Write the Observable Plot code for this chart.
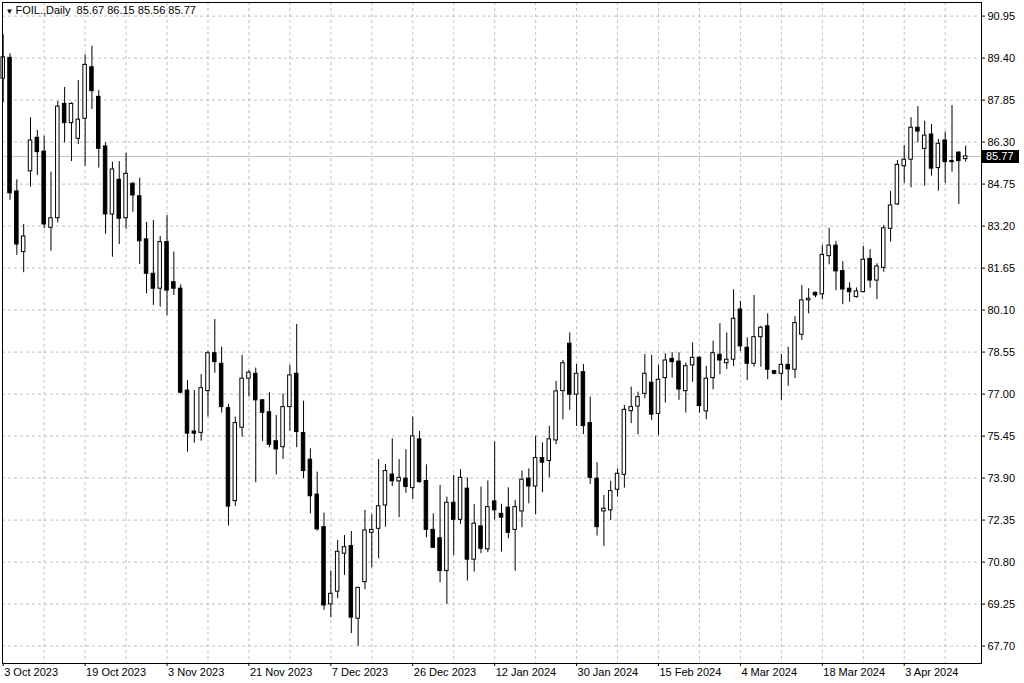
<!DOCTYPE html>
<html><head><meta charset="utf-8">
<script src="https://cdn.jsdelivr.net/npm/d3@7"></script>
<script src="https://cdn.jsdelivr.net/npm/@observablehq/plot@0.6"></script>
<style>html,body{margin:0;padding:0;background:#fff;overflow:hidden;} #chart svg{display:block;}</style>
</head><body><div id="chart"></div>
<script>
const symbolName = "FOIL.,Daily";
const opens = [88.64,89.41,84.48,82.24,85.22,86.46,85.95,83.14,83.49,87.71,87.00,86.42,87.16,89.06,87.97,86.14,83.63,84.91,83.49,84.76,
84.30,82.71,81.44,80.89,82.61,81.13,80.89,77.13,75.62,75.57,77.11,78.51,78.12,76.48,73.05,75.76,77.57,77.75,76.77,76.33,
75.26,75.04,76.52,77.75,75.56,74.58,73.29,72.09,69.24,69.71,71.11,71.39,68.71,70.06,71.88,72.03,72.89,74.03,73.78,73.88,
73.53,75.33,73.79,71.99,71.68,70.47,72.99,72.36,73.51,70.89,72.12,71.27,73.04,72.58,72.81,71.99,72.67,73.88,73.59,74.64,
74.53,75.29,77.11,78.86,76.98,77.81,75.93,73.88,72.67,72.71,73.47,74.02,76.37,76.54,77.01,77.42,76.27,77.59,78.30,78.20,
77.11,78.06,78.34,76.36,77.59,78.45,78.14,78.27,80.12,78.71,78.12,79.10,79.50,77.85,77.75,78.08,77.90,79.19,80.46,80.74,
80.68,82.09,82.48,81.54,80.89,80.58,80.76,81.99,81.19,81.66,83.10,84.00,85.41,85.65,86.83,86.05,86.58,85.34,86.36,85.60,
85.91,85.67];
const highs = [90.26,89.56,84.91,83.26,87.20,86.73,86.52,85.19,87.80,88.32,87.75,88.57,89.52,89.84,88.20,86.27,85.56,85.58,85.89,84.82,
84.97,83.34,83.41,82.82,83.59,82.24,81.03,77.50,77.13,77.72,78.58,79.75,78.73,76.62,76.15,78.43,77.87,77.96,76.80,77.05,
76.21,77.01,78.06,79.57,76.74,74.98,74.12,72.61,70.47,71.60,71.78,71.93,69.87,72.71,72.55,74.58,74.40,75.35,74.58,74.95,
76.15,75.62,74.39,72.58,73.63,73.20,74.00,74.21,73.91,72.92,73.57,73.79,75.23,72.93,73.54,73.08,74.16,74.24,75.44,75.20,
75.81,77.47,78.24,79.26,78.09,78.09,76.89,74.47,73.26,73.78,74.24,76.58,77.26,77.07,78.46,78.43,78.06,78.49,78.53,78.53,
78.14,78.89,78.39,78.02,78.95,79.60,79.26,80.85,80.42,79.08,80.64,79.50,79.96,77.87,78.46,78.73,79.86,81.01,80.89,80.76,
82.48,83.12,82.64,81.89,81.11,80.92,82.45,82.33,81.81,83.22,84.48,85.62,86.17,87.20,87.61,87.07,86.95,86.40,86.67,87.65,
85.95,86.15];
const lows = [87.75,84.15,82.12,81.48,84.64,85.07,83.10,82.27,83.32,86.27,85.58,86.21,85.41,87.50,85.34,82.90,82.05,82.52,83.08,83.71,
81.78,80.70,80.27,80.21,79.90,80.64,77.00,74.86,75.19,75.26,76.15,77.77,76.30,72.13,72.85,75.41,76.89,73.73,75.25,75.02,
74.02,74.59,75.63,75.02,73.88,72.58,71.94,69.02,68.75,69.45,70.31,68.16,67.70,69.78,70.59,70.92,72.09,73.59,72.44,73.34,
73.11,73.71,71.70,71.30,70.04,69.24,71.05,72.19,70.10,70.43,71.11,71.15,72.36,71.17,71.66,70.46,72.07,72.95,72.55,73.36,
73.91,75.13,76.05,76.40,75.81,75.51,73.67,71.76,71.38,72.34,73.20,73.53,75.91,75.50,76.83,76.03,75.47,76.67,77.59,76.77,
76.30,77.44,76.30,76.05,77.16,77.72,77.91,78.02,78.57,77.50,77.99,77.99,77.53,77.71,76.77,77.29,77.57,78.98,79.96,80.56,
80.48,81.77,80.82,80.30,80.39,80.54,80.74,80.91,80.49,81.50,82.61,83.96,84.78,84.61,86.27,84.67,85.04,84.49,84.78,85.19,
84.00,85.56];
const closes = [89.43,84.41,82.52,82.82,86.36,85.93,83.26,83.49,87.61,87.00,87.71,87.13,89.15,88.18,86.05,83.63,85.29,83.47,85.13,84.33,
82.64,81.44,80.89,82.61,80.82,80.89,77.05,75.54,75.54,77.22,78.51,78.18,76.52,72.85,75.93,77.57,77.79,76.77,76.31,75.13,
74.96,76.52,77.69,75.60,74.16,73.23,72.01,69.20,69.63,71.18,71.35,68.75,69.85,71.97,71.99,72.86,74.16,73.78,73.91,73.57,
75.44,73.75,71.99,71.33,70.47,72.99,72.36,73.91,70.89,72.22,71.29,72.83,72.71,72.44,71.88,72.83,73.84,73.59,74.64,74.47,
75.33,77.10,78.14,76.98,77.75,75.82,73.91,72.09,72.77,73.42,74.06,76.42,76.52,76.89,77.75,76.24,77.53,78.24,78.18,77.17,
78.03,78.34,76.56,77.57,78.51,78.24,78.27,79.78,78.76,78.12,79.10,79.45,77.90,77.75,78.08,77.91,79.62,80.46,80.52,80.64,
82.14,82.48,81.53,80.86,80.76,80.79,81.96,81.19,81.71,83.12,83.96,85.46,85.65,86.83,86.69,86.54,85.32,86.24,85.56,85.56,
85.60,85.77];
const xLabels = ["3 Oct 2023","19 Oct 2023","3 Nov 2023","21 Nov 2023","7 Dec 2023","26 Dec 2023","12 Jan 2024","30 Jan 2024","15 Feb 2024","4 Mar 2024","18 Mar 2024","3 Apr 2024"];
const yTicks = [67.70,69.25,70.80,72.35,73.90,75.45,77.00,78.55,80.10,81.65,83.20,84.75,86.30,87.85,89.40,90.95];
const barsPerLabel = 12;
const barsPerGrid = 6;

const candles = opens.map((o, i) => ({i, open: o, high: highs[i], low: lows[i], close: closes[i]}));
const last = candles[candles.length - 1];
const labelIdx = xLabels.map((_, k) => k * barsPerLabel);
const gridIdx = d3.range(barsPerGrid, candles.length, barsPerGrid);
const W = 1024, H = 683, mL = 2, mR = 43, mT = 2, mB = 20;
const FONT = "'Liberation Sans', Arial, sans-serif";
const headline = symbolName + "\u00a0\u00a0" + [last.open, last.high, last.low, last.close].map(v => v.toFixed(2)).join(" ");

const plot = Plot.plot({
  width: W, height: H,
  marginLeft: mL, marginRight: mR, marginTop: mT, marginBottom: mB,
  style: {background: "#fff", color: "#000", fontFamily: FONT, fontSize: "11px", overflow: "visible"},
  x: {domain: [-0.1025, 143.32], axis: "bottom", ticks: labelIdx, tickSize: 3, tickFormat: () => "", label: null},
  y: {domain: [67.058, 91.452], axis: "right", ticks: yTicks, tickSize: 3, tickFormat: () => "", label: null},
  marks: [
    Plot.ruleY(yTicks, {y: d => d, stroke: "#c0c0c0", strokeDasharray: "3,3"}),
    Plot.ruleX(gridIdx, {x: d => d, stroke: "#c0c0c0", strokeDasharray: "3,3"}),
    Plot.ruleY([last.close], {y: d => d, stroke: "#c0c0c0"}),
    Plot.ruleX(candles, {x: "i", y1: "low", y2: "high", stroke: "#000"}),
    Plot.rect(candles, {
      x1: d => d.i - 0.256, x2: d => d.i + 0.256, y1: "open", y2: "close",
      fill: d => d.close > d.open ? "#ffffff" : "#000000", stroke: "#000"
    }),
    Plot.frame({stroke: "#000"}),
    Plot.text(yTicks, {y: d => d, text: d => d.toFixed(2), frameAnchor: "right", textAnchor: "start", dx: 6, fill: "#000"}),
    Plot.text(labelIdx, {x: d => d, text: (d, k) => xLabels[k], frameAnchor: "bottom", textAnchor: "start", lineAnchor: "top", dx: 1, dy: 5, fill: "#000"}),
    Plot.text([headline], {frameAnchor: "top-left", text: d => d, dx: 13, dy: 4, lineAnchor: "top", fill: "#000"}),
    Plot.text(["\u25BC"], {frameAnchor: "top-left", text: d => d, dx: 3, dy: 6, lineAnchor: "top", fontSize: 8, fill: "#000"})
  ]
});

document.getElementById("chart").appendChild(plot);

// current price label on the price scale
const ys = plot.scale("y");
const yy = ys.apply(last.close);
const sel = d3.select(plot);
sel.append("rect").attr("x", W - mR + 1).attr("y", Math.round(yy) - 6).attr("width", 37).attr("height", 13).attr("fill", "#000");
sel.append("text").attr("x", W - mR + 5).attr("y", yy).attr("dy", "0.35em").attr("text-anchor", "start")
  .attr("fill", "#fff").attr("font-family", FONT).attr("font-size", 11).text(last.close.toFixed(2));
</script>
</body></html>
